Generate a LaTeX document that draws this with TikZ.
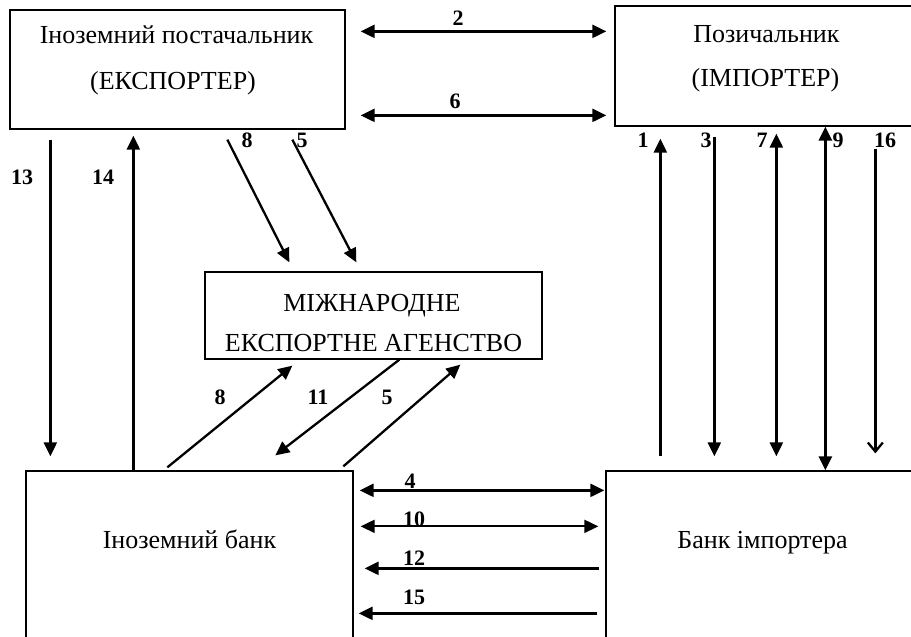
\documentclass[tikz,border=0pt]{standalone}
\usepackage{fontspec}
\setmainfont{Liberation Serif}
\usetikzlibrary{arrows.meta,calc}
\begin{document}
\begin{tikzpicture}[x=1pt,y=-1pt,
  box/.style={draw, line width=1.3pt, inner sep=0pt},
  txt/.style={inner sep=0pt, anchor=base, font=\fontsize{26}{30}\selectfont},
  num/.style={inner sep=0pt, anchor=center, font=\fontsize{22}{24}\selectfont\bfseries},
  arr/.style={line width=2.3pt, -{Triangle[length=14pt,width=13pt]}},
  darr/.style={line width=2.3pt, {Triangle[length=14pt,width=13pt]}-{Triangle[length=14pt,width=13pt]}},
  oarr/.style={line width=2.3pt, -{Straight Barb[length=9pt,width=15pt,line width=2.3pt]}}
]
\useasboundingbox[fill=white] (0,0) rectangle (911,637);
% boxes
\node[box, minimum width=335pt, minimum height=119pt] (exp) at (177.5,69.5) {};
\node[box, minimum width=303pt, minimum height=120pt] (imp) at (766.5,66) {};
\node[box, minimum width=337pt, minimum height=87pt] (ag) at (373.5,315.5) {};
\node[box, minimum width=327pt, minimum height=169pt] (fb) at (189.5,555.5) {};
\node[box, minimum width=313pt, minimum height=169pt] (br) at (762.5,555.5) {};
% texts
\node[txt] (expA) at (176.5,43) {Іноземний постачальник};
\node[txt] (expB) at (173,89) {(ЕКСПОРТЕР)};
\node[txt] (impA) at (766.5,42) {Позичальник};
\node[txt] (impB) at (765.5,86) {(ІМПОРТЕР)};
\node[txt] (agA) at (372,311) {МІЖНАРОДНЕ};
\node[txt] (agB) at (373.5,351) {ЕКСПОРТНЕ АГЕНСТВО};
\node[txt] (fbA) at (189.5,548) {Іноземний банк};
\node[txt] (brA) at (762.5,548) {Банк імпортера};
% top horizontal arrows
\draw[darr] ($(exp.north east)+(15,22)$) -- ($(imp.north west)+(-8,26)$);
\draw[darr] ($(exp.north east)+(15,106)$) -- ($(imp.north west)+(-8,110)$);
% left verticals
\draw[arr] ($(exp.south west)+(41,10)$) -- ($(fb.north west)+(25,-14)$);
\draw[arr] ($(fb.north west)+(108,0)$) -- ($(exp.south west)+(124,6)$);
% upper diagonals
\draw[arr] ($(exp.south west)+(218,10)$) -- ($(ag.north west)+(85,-9)$);
\draw[arr] ($(exp.south west)+(283,10)$) -- ($(ag.north west)+(152,-9)$);
% lower diagonals
\draw[arr] ($(fb.north west)+(142,-3)$) -- ($(ag.south west)+(88,6)$);
\draw[arr] ($(ag.south west)+(195,0)$) -- ($(fb.north west)+(250,-15)$);
\draw[arr] ($(fb.north west)+(318,-4)$) -- ($(ag.south west)+(256,5)$);
% bottom horizontals
\draw[darr] ($(fb.north east)+(6,20)$) -- ($(br.north west)+(-1,20)$);
\draw[darr, line width=1.8pt] ($(fb.north east)+(7,56)$) -- ($(br.north west)+(-7,56)$);
\draw[arr] ($(br.north west)+(-6,98)$) -- ($(fb.north east)+(11,98)$);
\draw[arr] ($(br.north west)+(-8,143)$) -- ($(fb.north east)+(5,143)$);
% right verticals
\draw[arr] ($(br.north west)+(55,-14)$) -- ($(imp.south west)+(46,12)$);
\draw[arr] ($(imp.south west)+(100,10)$) -- ($(br.north west)+(109,-14)$);
\draw[darr] ($(imp.south west)+(162,7)$) -- ($(br.north west)+(171,-14)$);
\draw[darr, line width=2.8pt] ($(imp.south west)+(211,0)$) -- ($(br.north west)+(220,0)$);
\draw[oarr] ($(imp.south west)+(261,22)$) -- ($(br.north west)+(270,-17)$);
% labels
\node[num] (n2) at (458,18) {2};
\node[num] (n6) at (455,101) {6};
\node[num] (n13) at (22,177.5) {13};
\node[num] (n14) at (103,177.5) {14};
\node[num] (n8a) at (247,140) {8};
\node[num] (n5a) at (302,140) {5};
\node[num] (n8b) at (220,397) {8};
\node[num] (n11) at (318,397) {11};
\node[num] (n5b) at (387,397) {5};
\node[num] (n4) at (410,481) {4};
\node[num] (n10) at (414,519) {10};
\node[num] (n12) at (414,558) {12};
\node[num] (n15) at (414,597) {15};
\node[num] (n1) at (643,140.5) {1};
\node[num] (n3) at (706,140.5) {3};
\node[num] (n7) at (762,140.5) {7};
\node[num] (n9) at (838,140.5) {9};
\node[num] (n16) at (885,140.5) {16};
\end{tikzpicture}
\end{document}
